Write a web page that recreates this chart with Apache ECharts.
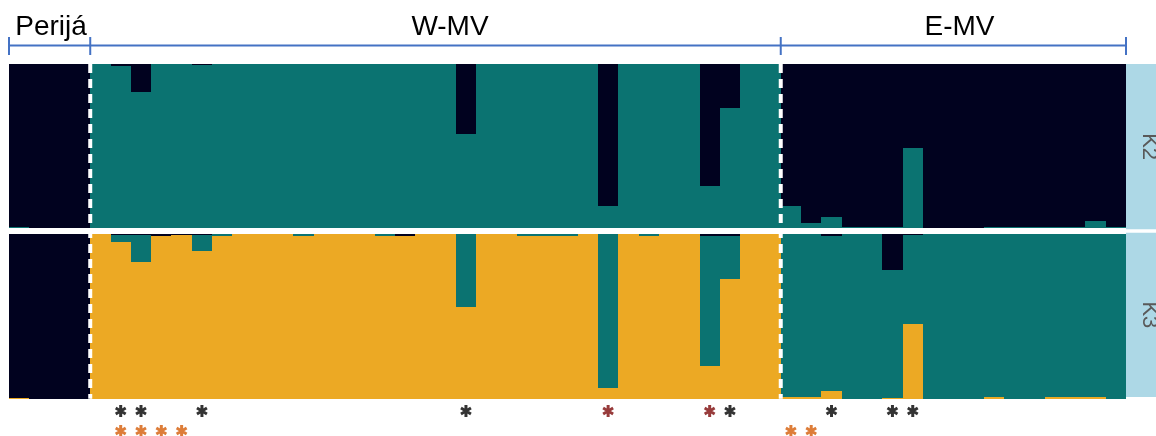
<!DOCTYPE html>
<html>
<head>
<meta charset="utf-8">
<script src="https://cdn.jsdelivr.net/npm/echarts@6/dist/echarts.min.js"></script>
<style>
  html, body { margin: 0; padding: 0; background: #ffffff; }
  #chart { width: 1156px; height: 436px; }
</style>
</head>
<body>
<div id="chart"></div>
<script>
// Populations, in sample order, and how many individuals each holds
const groupNames = ['Perijá', 'W-MV', 'E-MV'];
const groupSizes = [4, 34, 17];

// K = 2 ancestry proportions per individual (stacked teal, dark)
const k2Teal = [
  0.008, 0, 0, 0,
  1, 0.988, 0.83, 1, 1, 0.994, 1, 1, 1, 1, 1, 1, 1, 1, 1, 1, 1, 1,
  0.573, 1, 1, 1, 1, 1, 1, 0.134, 1, 1, 1, 1, 0.256, 0.732, 1, 1,
  0.134, 0.03, 0.067, 0.008, 0.008, 0.008, 0.488, 0, 0, 0,
  0.008, 0.008, 0.008, 0.008, 0.008, 0.043, 0.008
];
const k2Dark = [
  0.992, 1, 1, 1,
  0, 0.012, 0.17, 0, 0, 0.006, 0, 0, 0, 0, 0, 0, 0, 0, 0, 0, 0, 0,
  0.427, 0, 0, 0, 0, 0, 0, 0.866, 0, 0, 0, 0, 0.744, 0.268, 0, 0,
  0.866, 0.97, 0.933, 0.992, 0.992, 0.992, 0.512, 1, 1, 1,
  0.992, 0.992, 0.992, 0.992, 0.992, 0.957, 0.992
];

// K = 3 ancestry proportions per individual (stacked gold, teal, dark)
const k3Gold = [
  0.006, 0, 0, 0,
  1, 0.955, 0.83, 0.988, 0.995, 0.9, 0.99, 1, 1, 1, 0.99, 1, 1, 1, 0.99, 0.99, 1, 1,
  0.555, 1, 1, 0.99, 0.99, 0.99, 1, 0.065, 1, 0.99, 1, 1, 0.2, 0.73, 1, 1,
  0.008, 0.008, 0.047, 0, 0, 0.006, 0.457, 0, 0, 0,
  0.008, 0, 0, 0.008, 0.008, 0.008, 0
];
const k3Teal = [
  0, 0, 0, 0,
  0, 0.04, 0.165, 0, 0, 0.095, 0.01, 0, 0, 0, 0.01, 0, 0, 0, 0.01, 0, 0, 0,
  0.445, 0, 0, 0.01, 0.01, 0.01, 0, 0.935, 0, 0.01, 0, 0, 0.79, 0.26, 0, 0,
  0.992, 0.992, 0.943, 1, 1, 0.774, 0.537, 1, 1, 1,
  0.992, 1, 1, 0.992, 0.992, 0.992, 1
];
const k3Dark = [
  0.994, 1, 1, 1,
  0, 0.005, 0.005, 0.012, 0.005, 0.005, 0, 0, 0, 0, 0, 0, 0, 0, 0, 0.01, 0, 0,
  0, 0, 0, 0, 0, 0, 0, 0, 0, 0, 0, 0, 0.01, 0.01, 0, 0,
  0, 0, 0.01, 0, 0, 0.22, 0.006, 0, 0, 0,
  0, 0, 0, 0, 0, 0, 0
];

// Significance markers under individuals (sample indices)
const starsBlack = [5, 6, 9, 22, 35, 40, 43, 44];
const starsRed = [29, 34];
const starsOrange = [5, 6, 7, 8, 38, 39];

const panelLabels = ['K2', 'K3'];

const nSamples = k2Dark.length;
const sampleIds = Array.from({ length: nSamples }, (_, i) => 'ind' + (i + 1));

const C_DARK = '#01021f';
const C_TEAL = '#0b7371';
const C_GOLD = '#eca924';
const FONT = "'Liberation Sans', Arial, sans-serif";

const PLOT_L = 9, PLOT_R = 1126;
const TOP1 = 64, H1 = 164;
const TOP2 = 234.3, H2 = 164.4;

const chart = echarts.init(document.getElementById('chart'), null, { renderer: 'canvas' });

// Stacked ancestry bars drawn on whole pixels so neighbouring bars meet without seams
function stackSeries(layers, gridIdx) {
  const base = new Array(nSamples).fill(0);
  return layers.map(layer => {
    const data = layer.values.map((v, i) => {
      const item = [i, base[i], base[i] + v];
      base[i] += v;
      return item;
    });
    return {
      type: 'custom', name: layer.name,
      xAxisIndex: gridIdx, yAxisIndex: gridIdx,
      data: data, encode: { x: 0, y: [1, 2] },
      renderItem: function (params, api) {
        const lo = api.value(1), hi = api.value(2);
        if (hi - lo <= 0) return null;
        const pLo = api.coord([api.value(0), lo]);
        const pHi = api.coord([api.value(0), hi]);
        const w = api.size([1, 0])[0];
        const x0 = Math.round(pLo[0] - w / 2), x1 = Math.round(pLo[0] + w / 2);
        const yB = Math.round(pLo[1]), yT = Math.round(pHi[1]);
        const h = Math.max(yB - yT, 1);
        return {
          type: 'rect',
          shape: { x: x0, y: yB - h, width: x1 - x0, height: h },
          style: { fill: layer.color }
        };
      },
      silent: true, animation: false
    };
  });
}

// six-armed asterisk glyph
const asteriskPath = 'path://M-1.3,-5L1.3,-5L1.3,5L-1.3,5Z ' +
  'M3.68,-3.626L4.98,-1.374L-3.68,3.626L-4.98,1.374Z ' +
  'M-4.98,-1.374L-3.68,-3.626L4.98,1.374L3.68,3.626Z';

function starSeries(idx, row, color) {
  return {
    type: 'scatter', xAxisIndex: 2, yAxisIndex: 2,
    data: idx.map(i => [i, row]),
    symbol: asteriskPath, symbolSize: [11.5, 12],
    itemStyle: { color: color },
    emphasis: { disabled: true },
    silent: true, animation: false
  };
}

const xAxisBase = {
  type: 'category', data: sampleIds, boundaryGap: true,
  axisLine: { show: false }, axisTick: { show: false }, axisLabel: { show: false },
  splitLine: { show: false }
};
const yAxisBase = {
  type: 'value', min: 0, max: 1,
  axisLine: { show: false }, axisTick: { show: false }, axisLabel: { show: false },
  splitLine: { show: false }
};

const option = {
  backgroundColor: '#ffffff',
  animation: false,
  grid: [
    { left: PLOT_L, width: PLOT_R - PLOT_L, top: TOP1, height: H1 },
    { left: PLOT_L, width: PLOT_R - PLOT_L, top: TOP2, height: H2 },
    { left: PLOT_L, width: PLOT_R - PLOT_L, top: 396, height: 40 }
  ],
  xAxis: [
    Object.assign({ gridIndex: 0 }, xAxisBase),
    Object.assign({ gridIndex: 1 }, xAxisBase),
    Object.assign({ gridIndex: 2 }, xAxisBase)
  ],
  yAxis: [
    Object.assign({ gridIndex: 0 }, yAxisBase),
    Object.assign({ gridIndex: 1 }, yAxisBase),
    Object.assign({ gridIndex: 2 }, yAxisBase, { max: 2 })
  ],
  series: [].concat(
    stackSeries([
      { name: 'K2 cluster 2', values: k2Teal, color: C_TEAL },
      { name: 'K2 cluster 1', values: k2Dark, color: C_DARK }
    ], 0),
    stackSeries([
      { name: 'K3 cluster 3', values: k3Gold, color: C_GOLD },
      { name: 'K3 cluster 2', values: k3Teal, color: C_TEAL },
      { name: 'K3 cluster 1', values: k3Dark, color: C_DARK }
    ], 1),
    [
      starSeries(starsBlack, 1.25, '#000000'),
      starSeries(starsRed, 1.25, '#7d0a0a'),
      starSeries(starsOrange, 0.25, '#d45c08')
    ]
  )
};
chart.setOption(option);

// Decorations: population brackets, boundary lines, panel tabs
const band = (PLOT_R - PLOT_L) / nSamples;
const bounds = [PLOT_L];
groupSizes.forEach(n => bounds.push(bounds[bounds.length - 1] + n * band));

const BLUE = '#4472c4';
const BR_Y = 45.5;
const graphics = [];

graphics.push({
  type: 'line', shape: { x1: PLOT_L, y1: BR_Y, x2: PLOT_R, y2: BR_Y },
  style: { stroke: BLUE, lineWidth: 2 }, silent: true
});
bounds.forEach(x => {
  graphics.push({
    type: 'line', shape: { x1: x, y1: 37, x2: x, y2: 55 },
    style: { stroke: BLUE, lineWidth: 2 }, silent: true
  });
});

const labelX = [51, 450, 959.5];
groupNames.forEach((name, g) => {
  graphics.push({
    type: 'text', x: labelX[g], y: 27.5,
    style: {
      text: name, fill: '#000000', font: '28px ' + FONT,
      align: 'center', verticalAlign: 'middle'
    },
    silent: true
  });
});

// dashed separators between populations
[bounds[1], bounds[2]].forEach(x => {
  graphics.push({
    type: 'line', shape: { x1: x, y1: TOP1, x2: x, y2: TOP2 + H2 },
    style: { stroke: '#ffffff', lineWidth: 4, lineDash: [9, 6] },
    silent: true, z: 10
  });
});

// side tabs with panel names
[[TOP1, H1 + 1.3], [TOP2 - 1.6, H2]].forEach((p, k) => {
  graphics.push({
    type: 'rect', shape: { x: PLOT_R, y: p[0], width: 1156 - PLOT_R, height: p[1] },
    style: { fill: '#add8e6' }, silent: true
  });
  graphics.push({
    type: 'text', x: 1149, y: p[0] + p[1] / 2, rotation: -Math.PI / 2,
    style: {
      text: panelLabels[k], fill: '#595959', font: '22px ' + FONT,
      align: 'center', verticalAlign: 'middle'
    },
    silent: true, z: 11
  });
});

chart.setOption({ graphic: graphics });
</script>
</body>
</html>
